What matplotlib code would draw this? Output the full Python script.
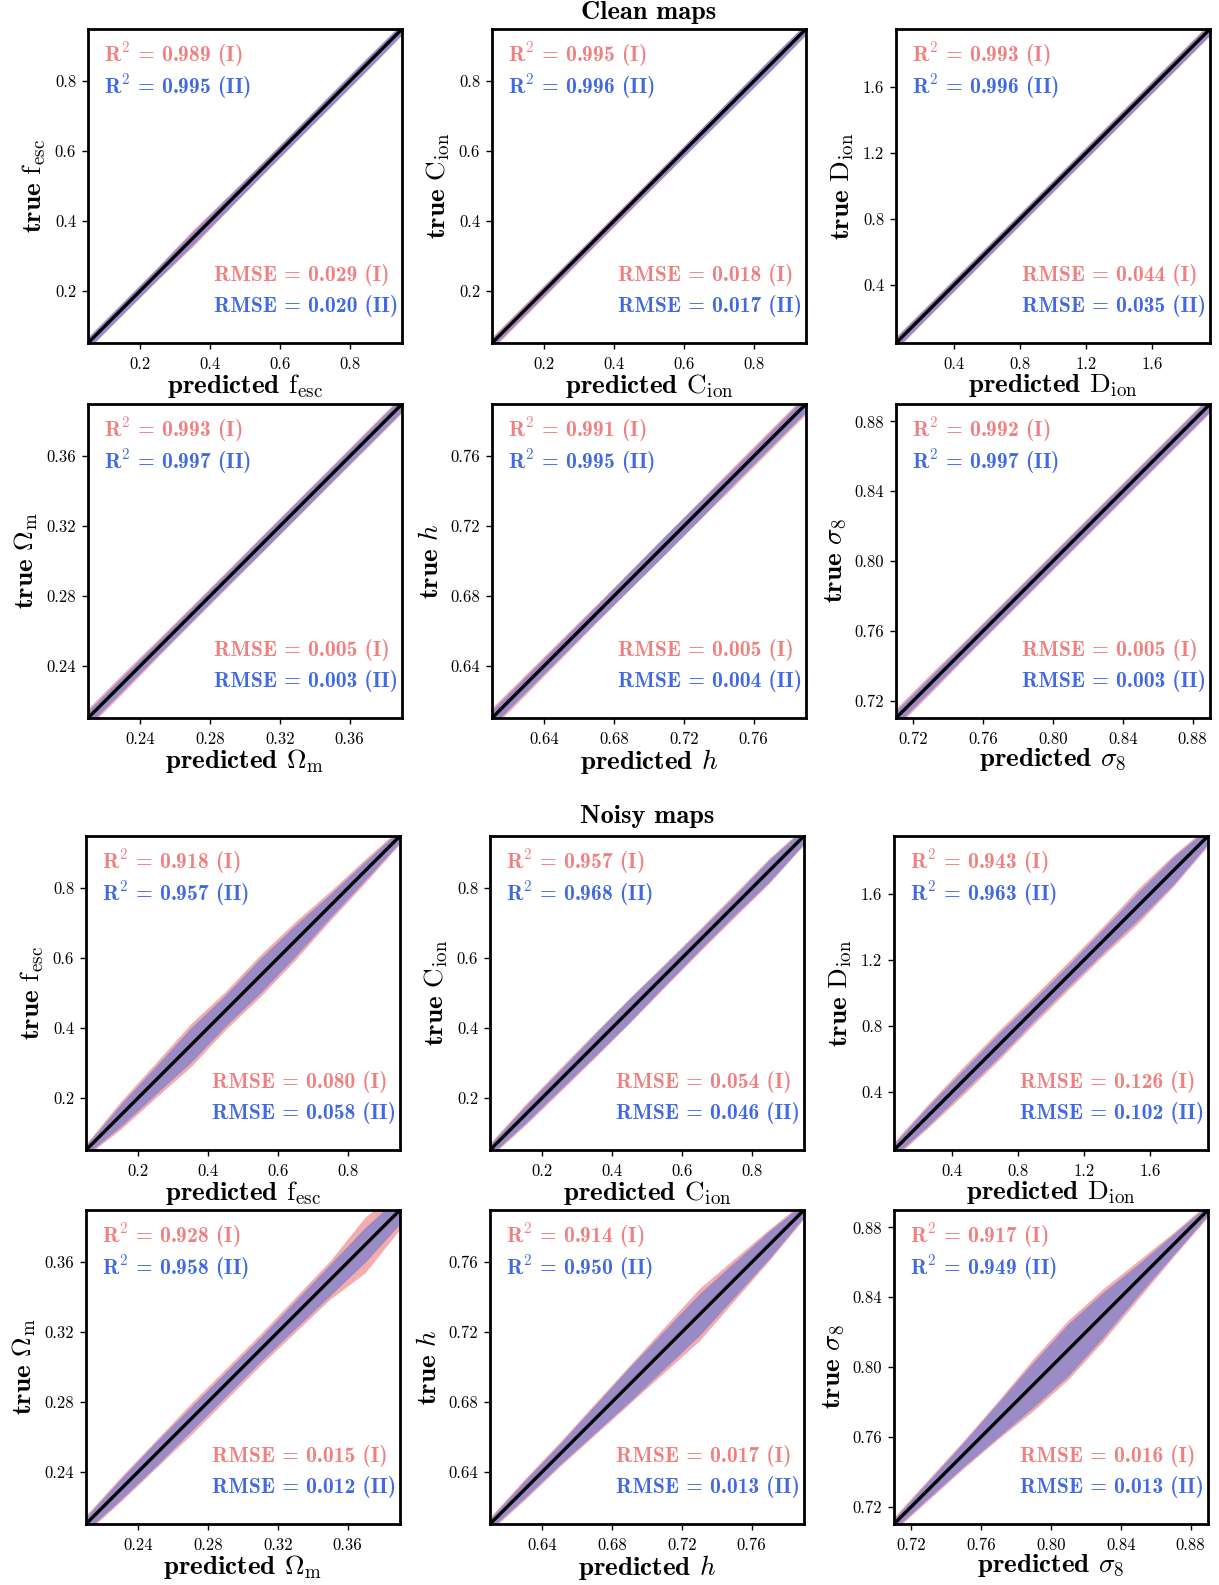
import numpy as np
import matplotlib.pyplot as plt

plt.rcParams['font.family'] = 'cmr10'
plt.rcParams['mathtext.fontset'] = 'cm'
plt.rcParams['axes.formatter.use_mathtext'] = True

RED = '#F08080'
BLUE = '#4169E1'

# axis ranges / ticks for each parameter
limits = [(0.05, 0.95), (0.05, 0.95), (0.05, 1.95), (0.21, 0.39), (0.61, 0.79), (0.71, 0.89)]
ticks = [[0.2, 0.4, 0.6, 0.8], [0.2, 0.4, 0.6, 0.8], [0.4, 0.8, 1.2, 1.6],
         [0.24, 0.28, 0.32, 0.36], [0.64, 0.68, 0.72, 0.76], [0.72, 0.76, 0.80, 0.84, 0.88]]
tick_labels = [['0.2', '0.4', '0.6', '0.8'], ['0.2', '0.4', '0.6', '0.8'], ['0.4', '0.8', '1.2', '1.6'],
               ['0.24', '0.28', '0.32', '0.36'], ['0.64', '0.68', '0.72', '0.76'],
               ['0.72', '0.76', '0.80', '0.84', '0.88']]
symbols = [r'$\mathrm{f}_{\mathrm{esc}}$', r'$\mathrm{C}_{\mathrm{ion}}$', r'$\mathrm{D}_{\mathrm{ion}}$',
           r'$\Omega_{\mathrm{m}}$', r'$h$', r'$\sigma_8$']

# nodes along the diagonal
fesc_x = [0.05, 0.15, 0.25, 0.35, 0.45, 0.55, 0.65, 0.75, 0.85, 0.95]
cion_x = [0.05, 0.15, 0.25, 0.35, 0.45, 0.55, 0.65, 0.75, 0.85, 0.95]
dion_x = [0.05, 0.26, 0.47, 0.68, 0.89, 1.11, 1.32, 1.53, 1.74, 1.95]
om_x = [0.21, 0.23, 0.25, 0.27, 0.29, 0.31, 0.33, 0.35, 0.37, 0.39]
h_x = [0.61, 0.63, 0.65, 0.67, 0.69, 0.71, 0.73, 0.75, 0.77, 0.79]
s8_x = [0.71, 0.73, 0.75, 0.77, 0.79, 0.81, 0.83, 0.85, 0.87, 0.89]

# half widths of the scatter bands (clean maps)
clean_fesc_I = [0.015, 0.016, 0.018, 0.024, 0.020, 0.018, 0.017, 0.017, 0.017, 0.015]
clean_fesc_II = [0.018, 0.018, 0.018, 0.019, 0.019, 0.018, 0.018, 0.019, 0.019, 0.017]
clean_cion_I = [0.018, 0.018, 0.017, 0.016, 0.016, 0.016, 0.016, 0.016, 0.017, 0.016]
clean_cion_II = [0.014, 0.014, 0.014, 0.014, 0.014, 0.015, 0.016, 0.018, 0.019, 0.016]
clean_dion_I = [0.040, 0.038, 0.038, 0.037, 0.037, 0.037, 0.038, 0.038, 0.040, 0.040]
clean_dion_II = [0.035, 0.035, 0.034, 0.034, 0.034, 0.034, 0.035, 0.035, 0.036, 0.036]
clean_om_I = [0.0055, 0.0055, 0.0050, 0.0048, 0.0048, 0.0048, 0.0048, 0.0048, 0.0050, 0.0050]
clean_om_II = [0.0042, 0.0042, 0.0040, 0.0040, 0.0040, 0.0044, 0.0044, 0.0042, 0.0042, 0.0042]
clean_h_I = [0.0060, 0.0058, 0.0055, 0.0052, 0.0052, 0.0052, 0.0055, 0.0058, 0.0058, 0.0058]
clean_h_II = [0.0045, 0.0045, 0.0045, 0.0045, 0.0050, 0.0054, 0.0050, 0.0045, 0.0045, 0.0045]
clean_s8_I = [0.0055, 0.0055, 0.0050, 0.0050, 0.0050, 0.0050, 0.0050, 0.0050, 0.0050, 0.0050]
clean_s8_II = [0.0042, 0.0042, 0.0042, 0.0042, 0.0042, 0.0042, 0.0042, 0.0042, 0.0042, 0.0042]

# half widths of the scatter bands (noisy maps)
noisy_fesc_I = [0.018, 0.040, 0.050, 0.062, 0.055, 0.060, 0.055, 0.042, 0.034, 0.022]
noisy_fesc_II = [0.014, 0.032, 0.040, 0.050, 0.045, 0.050, 0.045, 0.034, 0.027, 0.018]
noisy_cion_I = [0.020, 0.030, 0.034, 0.036, 0.036, 0.034, 0.033, 0.034, 0.036, 0.025]
noisy_cion_II = [0.016, 0.025, 0.028, 0.032, 0.034, 0.030, 0.028, 0.028, 0.032, 0.022]
noisy_dion_I = [0.050, 0.072, 0.085, 0.090, 0.085, 0.085, 0.090, 0.105, 0.095, 0.060]
noisy_dion_II = [0.038, 0.060, 0.066, 0.072, 0.066, 0.066, 0.072, 0.084, 0.084, 0.048]
noisy_om_I = [0.005, 0.007, 0.008, 0.009, 0.009, 0.009, 0.010, 0.011, 0.016, 0.011]
noisy_om_II = [0.004, 0.006, 0.007, 0.007, 0.007, 0.007, 0.008, 0.009, 0.010, 0.008]
noisy_h_I = [0.004, 0.006, 0.007, 0.009, 0.011, 0.013, 0.015, 0.012, 0.009, 0.005]
noisy_h_II = [0.003, 0.005, 0.006, 0.008, 0.010, 0.011, 0.012, 0.010, 0.008, 0.004]
noisy_s8_I = [0.004, 0.006, 0.008, 0.011, 0.015, 0.017, 0.015, 0.011, 0.007, 0.004]
noisy_s8_II = [0.003, 0.005, 0.007, 0.010, 0.013, 0.015, 0.013, 0.009, 0.006, 0.003]

# metrics
clean_r2_I = ['0.989', '0.995', '0.993', '0.993', '0.991', '0.992']
clean_r2_II = ['0.995', '0.996', '0.996', '0.997', '0.995', '0.997']
clean_rmse_I = ['0.029', '0.018', '0.044', '0.005', '0.005', '0.005']
clean_rmse_II = ['0.020', '0.017', '0.035', '0.003', '0.004', '0.003']
noisy_r2_I = ['0.918', '0.957', '0.943', '0.928', '0.914', '0.917']
noisy_r2_II = ['0.957', '0.968', '0.963', '0.958', '0.950', '0.949']
noisy_rmse_I = ['0.080', '0.054', '0.126', '0.015', '0.017', '0.016']
noisy_rmse_II = ['0.058', '0.046', '0.102', '0.012', '0.013', '0.013']

nodes = [fesc_x, cion_x, dion_x, om_x, h_x, s8_x]
clean_I = [clean_fesc_I, clean_cion_I, clean_dion_I, clean_om_I, clean_h_I, clean_s8_I]
clean_II = [clean_fesc_II, clean_cion_II, clean_dion_II, clean_om_II, clean_h_II, clean_s8_II]
noisy_I = [noisy_fesc_I, noisy_cion_I, noisy_dion_I, noisy_om_I, noisy_h_I, noisy_s8_I]
noisy_II = [noisy_fesc_II, noisy_cion_II, noisy_dion_II, noisy_om_II, noisy_h_II, noisy_s8_II]

W, H = 1219, 1585
fig = plt.figure(figsize=(W / 100, H / 100), dpi=100)


def panel(left, top, k, wI, wII, r2I, r2II, rmI, rmII):
    ax = fig.add_axes([left / W, (H - top - 314) / H, 314 / W, 314 / H])
    lo, hi = limits[k]
    x = np.array(nodes[k])
    ax.fill_between(x, x - np.array(wI), x + np.array(wI), color=RED, alpha=0.65, lw=0)
    ax.fill_between(x, x - np.array(wII), x + np.array(wII), color=BLUE, alpha=0.5, lw=0)
    ax.plot([lo, hi], [lo, hi], color='black', lw=2.4)
    ax.set_xlim(lo, hi)
    ax.set_ylim(lo, hi)
    ax.set_xticks(ticks[k], tick_labels[k])
    ax.set_yticks(ticks[k], tick_labels[k])
    ax.tick_params(axis='x', length=4.5, width=1, labelsize=12, pad=5)
    ax.tick_params(axis='y', length=4.5, width=1, labelsize=12, pad=4)
    for s in ax.spines.values():
        s.set_linewidth(2)
    ax.set_xlabel('predicted ' + symbols[k], family='cmb10', fontsize=19.5, labelpad=0)
    ax.set_ylabel('true ' + symbols[k], family='cmb10', fontsize=19.5, labelpad=5)
    kw = dict(transform=ax.transAxes, family='cmb10', fontsize=15.5, va='center')
    ax.text(0.05, 0.917, 'R$^{\\mathbf{2}}$ = ' + r2I + ' (I)', color=RED, **kw)
    ax.text(0.05, 0.815, 'R$^{\\mathbf{2}}$ = ' + r2II + ' (II)', color=BLUE, **kw)
    ax.text(0.40, 0.217, 'RMSE = ' + rmI + ' (I)', color=RED, **kw)
    ax.text(0.40, 0.118, 'RMSE = ' + rmII + ' (II)', color=BLUE, **kw)


top_lefts = [88, 492, 896]
bot_lefts = [86, 490, 894]
for k in range(6):
    r, c = divmod(k, 3)
    panel(top_lefts[c], [29, 404][r], k, clean_I[k], clean_II[k],
          clean_r2_I[k], clean_r2_II[k], clean_rmse_I[k], clean_rmse_II[k])
    panel(bot_lefts[c], [836, 1210][r], k, noisy_I[k], noisy_II[k],
          noisy_r2_I[k], noisy_r2_II[k], noisy_rmse_I[k], noisy_rmse_II[k])

fig.text(649 / W, 1 - 12 / H, 'Clean maps', family='cmb10', fontsize=19, ha='center', va='center')
fig.text(647 / W, 1 - 817 / H, 'Noisy maps', family='cmb10', fontsize=19, ha='center', va='center')

fig.savefig('out.png', dpi=100)
